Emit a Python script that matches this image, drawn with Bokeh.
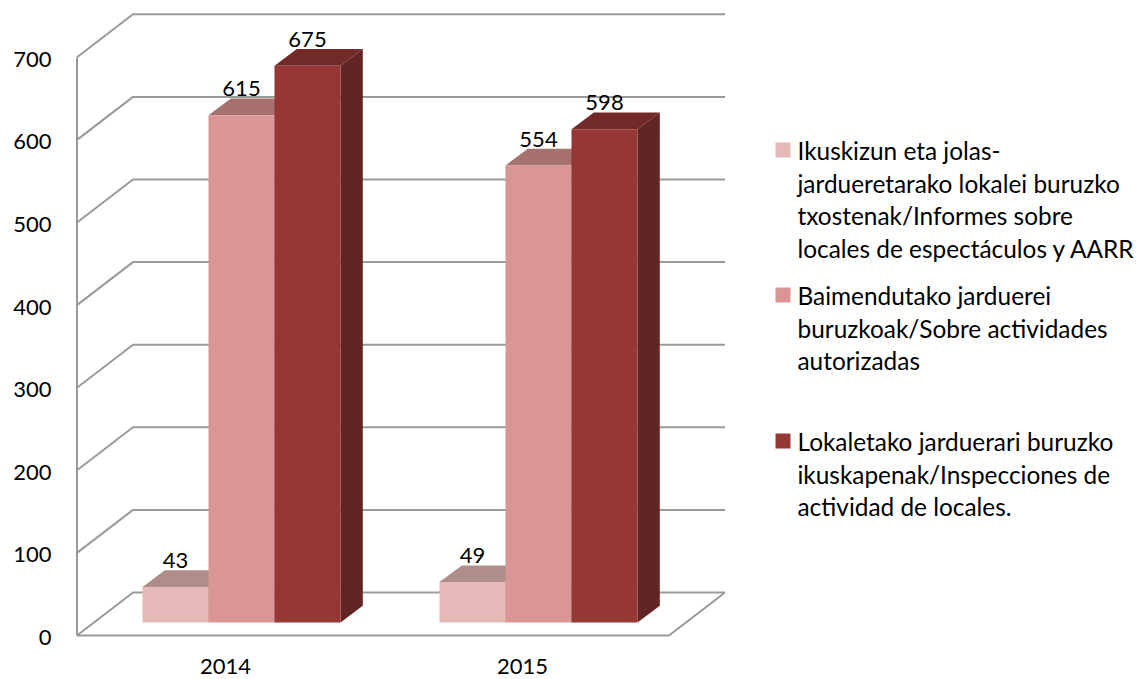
from bokeh.plotting import figure
from bokeh.models import Range1d, FixedTicker
from bokeh.core.properties import value
from bokeh.embed import file_html
from bokeh.resources import INLINE

years = ["2014", "2015"]
y_ticks = [0, 100, 200, 300, 400, 500, 600, 700]
s1 = [43, 49]
s2 = [615, 554]
s3 = [675, 598]
series = [s1, s2, s3]
legend_lines = [
    ["Ikuskizun eta jolas-", "jardueretarako lokalei buruzko", "txostenak/Informes sobre", "locales de espectáculos y AARR"],
    ["Baimendutako jarduerei", "buruzkoak/Sobre actividades", "autorizadas"],
    ["Lokaletako jarduerari buruzko", "ikuskapenak/Inspecciones de", "actividad de locales."],
]
front = ["#E6B8B7", "#D99694", "#953735"]
top = ["#AF8D8B", "#A6716F", "#722A28"]
side = ["#8A5E5D", "#8A4F4E", "#632523"]
GRID = "#9A9A9A"
FONT = "Lato"

W, H = 1136, 679
X0_PX, Y0_PX = 76.5, 635.0          # front-left floor corner, image pixels
UX, UY = 297.0, 0.826               # px per category, px per value
LEFT, BOTTOM = 66, 650              # frame left and bottom, image pixels
LABEL_DROP = 2                      # y tick labels sit this many px under their lines

def X(px):
    return (px - X0_PX) / UX
def Y(py):
    return (Y0_PX - py) / UY

p = figure(width=W, height=H, output_backend="svg", toolbar_location=None,
           x_range=Range1d(X(LEFT), X(W)), y_range=Range1d(Y(BOTTOM), Y(0)),
           min_border_left=LEFT, min_border_right=0, min_border_top=0,
           min_border_bottom=H - BOTTOM)
p.outline_line_color = None
p.grid.visible = False
p.background_fill_color = "white"
p.extra_y_ranges = {"labels": Range1d(Y(BOTTOM - LABEL_DROP), Y(-LABEL_DROP))}
p.yaxis[0].y_range_name = "labels"

for ax, standoff in ((p.yaxis[0], 15), (p.xaxis[0], 8)):
    ax.axis_line_color = None
    ax.major_tick_line_color = None
    ax.minor_tick_line_color = None
    ax.major_tick_out = 0
    ax.major_tick_in = 0
    ax.minor_tick_out = 0
    ax.minor_tick_in = 0
    ax.major_label_text_font = FONT
    ax.major_label_text_font_size = "22px"
    ax.major_label_text_color = "#000000"
    ax.major_label_standoff = standoff
p.yaxis[0].ticker = FixedTicker(ticks=y_ticks)
p.xaxis[0].ticker = FixedTicker(ticks=[i + 0.5 for i in range(len(years))])
p.xaxis[0].major_label_overrides = {i + 0.5: y for i, y in enumerate(years)}

# walls and floor
DX, DY = 56 / UX, 43 / UY
FW = 592 / UX
xs, ys = [], []
for t in y_ticks:
    xs.append([0, DX, DX + FW]); ys.append([t, t + DY, t + DY])
xs.append([0, 0]); ys.append([0, y_ticks[-1]])
xs.append([0, FW, FW + DX]); ys.append([0, 0, DY])
p.multi_line(xs, ys, line_color=GRID, line_width=2)

# bars
BW = 66 / UX
GROUP0 = (241 - X0_PX) / UX          # first group's centre
BASE = 13 / UY
BX, BY = 22.3 / UX, 16.7 / UY
for k, vals in enumerate(series):
    for i, v in enumerate(vals):
        c = GROUP0 + i + (k - 1) * BW
        l, r = c - BW / 2, c + BW / 2
        b = BASE
        t = BASE + v * (0.825 / UY)
        p.patch([l, r, r + BX, l + BX], [t, t, t + BY, t + BY], fill_color=top[k], line_color=None)
        p.patch([r, r + BX, r + BX, r], [b, b + BY, t + BY, t], fill_color=side[k], line_color=None)
        p.vbar(x=[c], width=BW, bottom=[b], top=[t], fill_color=front[k], line_color=None)

# data labels
for k, vals in enumerate(series):
    for i, v in enumerate(vals):
        c = GROUP0 + i + (k - 1) * BW
        t = BASE + v * (0.825 / UY) + BY
        p.text([c], [t + 9.5 / UY], text=[str(v)], text_font=value(FONT), text_font_size="22px",
               text_align="center", text_baseline="middle", text_color="#000000")

# legend
LEG_Y = [150, 295, 441]
for k, lines in enumerate(legend_lines):
    y0 = LEG_Y[k]
    p.quad(left=[X(775)], right=[X(790)], top=[Y(y0 - 8)], bottom=[Y(y0 + 7)], fill_color=front[k], line_color=None)
    for j, line in enumerate(lines):
        p.text([X(797)], [Y(y0 + j * 32.5)], text=[line], text_font=value(FONT), text_font_size="24.4px",
               text_align="left", text_baseline="middle", text_color="#000000")

open("out.html", "w").write(file_html(p, INLINE))
